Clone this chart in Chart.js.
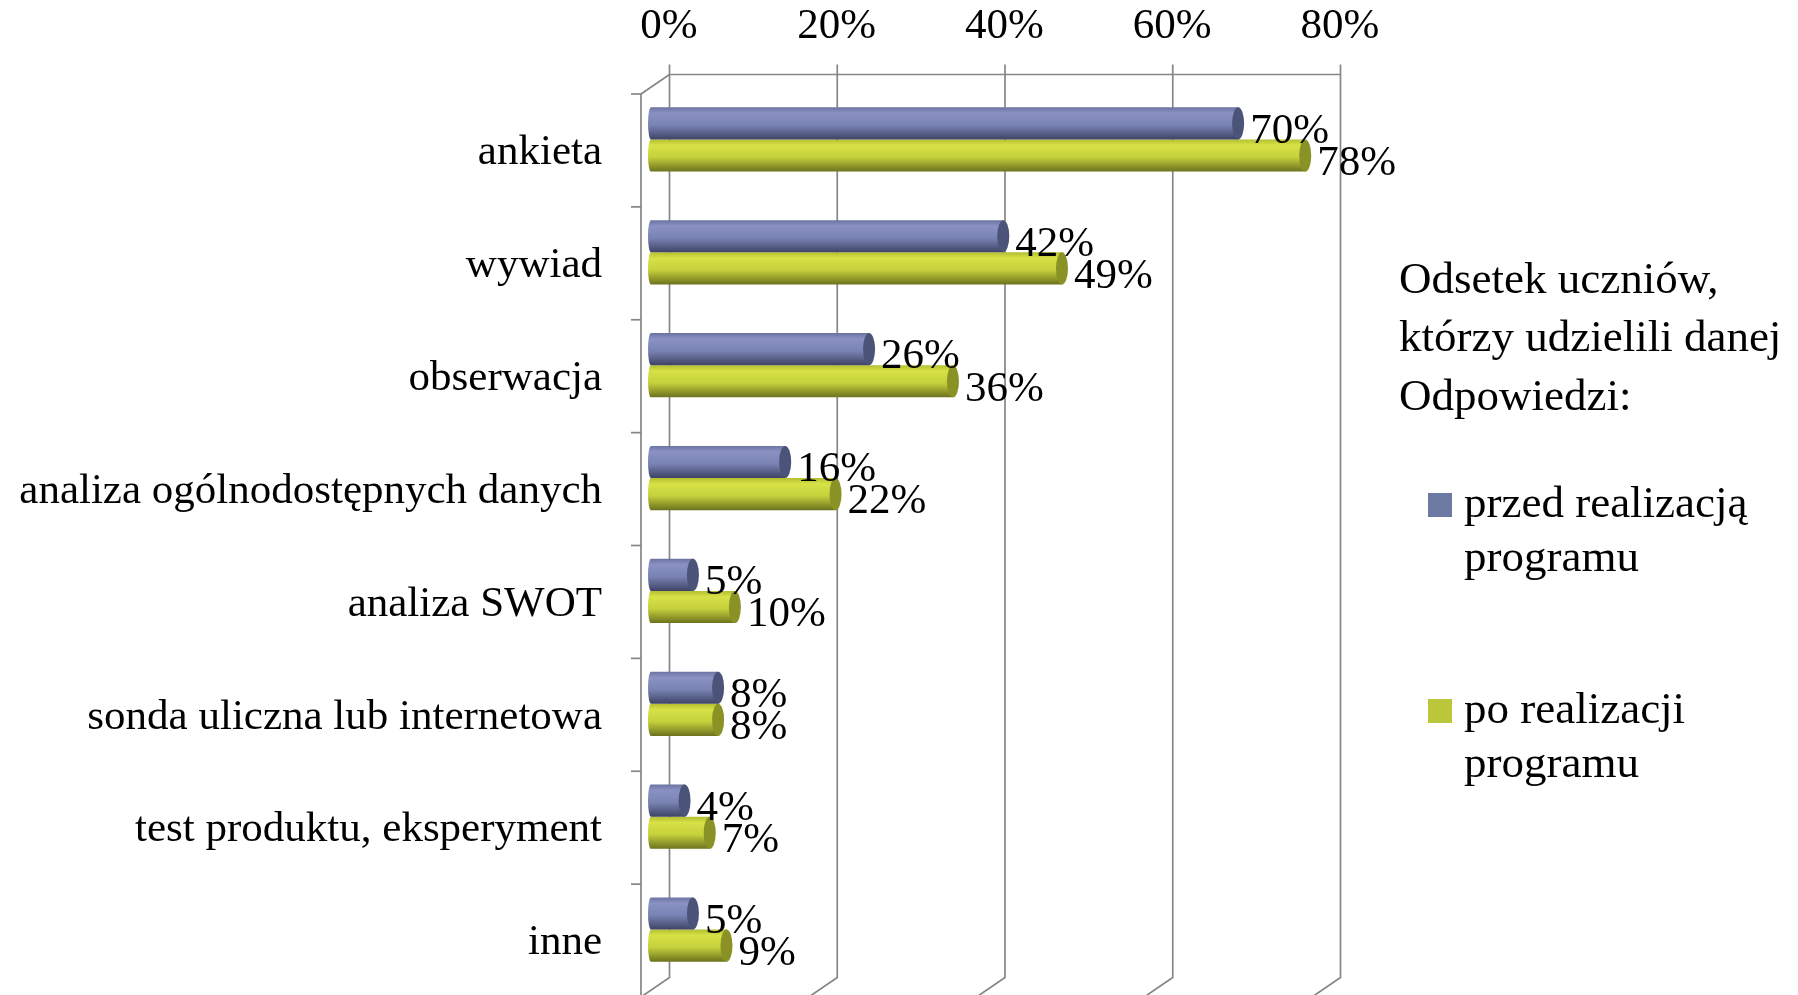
<!DOCTYPE html>
<html><head><meta charset="utf-8">
<script src="https://cdn.jsdelivr.net/npm/chart.js@4.4.0/dist/chart.umd.min.js"></script>
<style>html,body{margin:0;padding:0;background:#fff;overflow:hidden}#wrap{position:relative;width:1798px;height:995px}</style>
</head><body><div id="wrap"><canvas id="c"></canvas></div>
<script>
const categories = ['ankieta','wywiad','obserwacja','analiza ogólnodostępnych danych','analiza SWOT','sonda uliczna lub internetowa','test produktu, eksperyment','inne'];
const beforeValues = [70,42,26,16,5,8,4,5];
const afterValues = [78,49,36,22,10,8,7,9];
const seriesNames = ['przed realizacją programu','po realizacji programu'];
const tickValues = [0,20,40,60,80];
const legendTitle = ['Odsetek uczniów,','którzy udzielili danej','Odpowiedzi:'];

const FONT = '"Liberation Serif", "DejaVu Serif", serif';
const AX_SIZE = 43, LEG_SIZE = 45;
const CAT_PCT = 0.57;
const BACK = {dx: 18.5, dy: -8.5}, FRONT = {dx: -10, dy: 11};
const styles = [
  {stops:['#6a73a0','#8992c2','#7a84b4','#3e4466'], cap:'#4b5378', legend:'#6f7aa4'},
  {stops:['#b4be30','#d6e246','#c6d13c','#6c721e'], cap:'#8a9226', legend:'#bcc63a'}
];

function cylFill(c) {
  const st = styles[c.datasetIndex].stops;
  const chart = c.chart, area = chart.chartArea, ys = chart.scales.y;
  if (!area || !ys || c.dataIndex === undefined) return st[1];
  const band = (area.bottom - area.top) / categories.length;
  const size = band * CAT_PCT, h = size / 2;
  const center = ys.getPixelForValue(c.dataIndex);
  const top = center - size / 2 + c.datasetIndex * h;
  const g = chart.ctx.createLinearGradient(0, top, 0, top + h);
  g.addColorStop(0, st[0]); g.addColorStop(0.18, st[1]); g.addColorStop(0.55, st[2]); g.addColorStop(1, st[3]);
  return g;
}

function wrapLabel(s) { const i = s.lastIndexOf(' '); return i > 0 ? [s.slice(0, i), s.slice(i + 1)] : [s]; }

const wallPlugin = {
  id: 'wall3d',
  beforeDatasetsDraw(chart) {
    const {ctx, chartArea: a, scales: {x, y}} = chart;
    ctx.save();
    ctx.strokeStyle = '#868686'; ctx.lineWidth = 1.7;
    const bt = a.top + BACK.dy, bb = a.bottom + BACK.dy;
    const ddx = FRONT.dx - BACK.dx, ddy = FRONT.dy - BACK.dy;
    tickValues.forEach(v => {
      const xb = x.getPixelForValue(v) + BACK.dx;
      ctx.beginPath(); ctx.moveTo(xb, bt - 10); ctx.lineTo(xb, bb); ctx.lineTo(xb + ddx, bb + ddy); ctx.stroke();
    });
    const x0 = x.getPixelForValue(0);
    ctx.beginPath();
    ctx.moveTo(x0 + BACK.dx, bt); ctx.lineTo(x.getPixelForValue(tickValues[tickValues.length-1]) + BACK.dx, bt); ctx.stroke();
    const xf = x0 + FRONT.dx;
    ctx.beginPath();
    ctx.moveTo(x0 + BACK.dx, bt); ctx.lineTo(xf, a.top + FRONT.dy); ctx.lineTo(xf, a.bottom + FRONT.dy); ctx.stroke();
    for (let i = 0; i <= categories.length; i++) {
      const yy = y.getPixelForValue(i - 0.5) + FRONT.dy;
      ctx.beginPath(); ctx.moveTo(xf - 10, yy); ctx.lineTo(xf, yy); ctx.stroke();
    }
    ctx.restore();
  },
  afterDatasetsDraw(chart) {
    const {ctx} = chart;
    ctx.save();
    chart.data.datasets.forEach((ds, di) => {
      const meta = chart.getDatasetMeta(di);
      meta.data.forEach(el => {
        const ry = el.height / 2;
        ctx.fillStyle = styles[di].cap;
        ctx.beginPath(); ctx.ellipse(el.x, el.y, 6, ry, 0, 0, Math.PI * 2); ctx.fill();
        const gl = ctx.createLinearGradient(0, el.y - ry, 0, el.y + ry);
        const st = styles[di].stops;
        gl.addColorStop(0, st[0]); gl.addColorStop(0.18, st[1]); gl.addColorStop(0.55, st[2]); gl.addColorStop(1, st[3]);
        ctx.fillStyle = gl;
        ctx.beginPath(); ctx.ellipse(el.base, el.y, 3, ry, 0, Math.PI / 2, Math.PI * 1.5); ctx.fill();
      });
    });
    ctx.font = AX_SIZE + 'px ' + FONT; ctx.fillStyle = '#000'; ctx.textAlign = 'left'; ctx.textBaseline = 'middle';
    chart.data.datasets.forEach((ds, di) => {
      chart.getDatasetMeta(di).data.forEach((el, i) => {
        ctx.fillText(ds.data[i] + '%', el.x + 12, el.y + 8);
      });
    });
    ctx.restore();
  },
  afterDraw(chart) {
    const {ctx} = chart;
    ctx.save();
    ctx.fillStyle = '#000'; ctx.textAlign = 'left'; ctx.textBaseline = 'middle';
    ctx.font = LEG_SIZE + 'px ' + FONT;
    const lx = 1399;
    legendTitle.forEach((t, i) => ctx.fillText(t, lx, 281 + i * 58.5));
    const centers = [505, 711];
    chart.data.datasets.forEach((ds, di) => {
      const cy = centers[di];
      ctx.fillStyle = styles[di].legend;
      ctx.fillRect(1428, cy - 12, 24, 24);
      ctx.fillStyle = '#000';
      wrapLabel(ds.label).forEach((t, k) => ctx.fillText(t, 1464, cy + k * 54));
    });
    ctx.restore();
  }
};

new Chart(document.getElementById('c'), {
  type: 'bar',
  data: {
    labels: categories,
    datasets: [
      {label: seriesNames[0], data: beforeValues, backgroundColor: cylFill, borderWidth: 0},
      {label: seriesNames[1], data: afterValues, backgroundColor: cylFill, borderWidth: 0}
    ]
  },
  options: {
    indexAxis: 'y',
    responsive: true,
    maintainAspectRatio: false,
    animation: false,
    categoryPercentage: CAT_PCT,
    barPercentage: 1,
    layout: {padding: {left: 0, top: 0, right: 476, bottom: 9}},
    plugins: {legend: {display: false}, tooltip: {enabled: false}},
    scales: {
      x: {
        position: 'top', min: 0, max: 80,
        afterBuildTicks(s) { s.ticks = tickValues.map(v => ({value: v})); },
        afterFit(s) { s.height = 83; s.paddingLeft = 0; s.paddingRight = 0; },
        grid: {display: false, drawTicks: false},
        border: {display: false},
        ticks: {callback: v => v + '%', labelOffset: 18, padding: 30, color: '#000', font: {family: FONT, size: AX_SIZE}, maxRotation: 0}
      },
      y: {
        afterFit(s) { s.width = 651; s.paddingTop = 0; s.paddingBottom = 0; },
        grid: {display: false, drawTicks: false},
        border: {display: false},
        ticks: {padding: 49, labelOffset: 13.5, color: '#000', font: {family: FONT, size: AX_SIZE}, autoSkip: false}
      }
    }
  },
  plugins: [wallPlugin]
});
</script></body></html>
